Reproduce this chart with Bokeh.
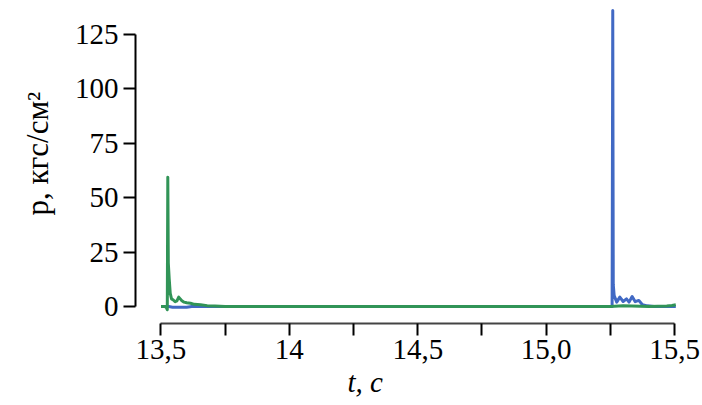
from bokeh.plotting import figure
from bokeh.models import Range1d, FixedTicker, Title
from bokeh.embed import file_html
from bokeh.resources import INLINE

# ---- data ----
green_t = [13.500, 13.515, 13.521, 13.5245, 13.5265, 13.5285, 13.532, 13.536, 13.541,
           13.548, 13.555, 13.562, 13.569, 13.575, 13.580, 13.590, 13.600, 13.615,
           13.630, 13.654, 13.680, 13.710, 13.750, 14.000, 14.500, 15.000, 15.250,
           15.300, 15.400, 15.470, 15.490, 15.505]
green_p = [0.0, 0.0, -0.5, -1.5, 59.4, 20.0, 12.7, 6.0, 3.5,
           3.0, 2.2, 2.6, 4.3, 3.5, 2.8, 2.0, 1.7, 1.5,
           1.0, 0.8, 0.4, 0.2, 0.0, 0.0, 0.0, 0.0, 0.0,
           0.3, 0.0, 0.2, 0.5, 0.8]

blue_t = [13.500, 13.530, 13.545, 13.600, 13.620, 14.000, 14.500, 15.000, 15.257,
          15.2595, 15.2615, 15.265, 15.275, 15.287, 15.300, 15.313, 15.323, 15.335,
          15.347, 15.361, 15.375, 15.394, 15.420, 15.505]
blue_p = [0.0, 0.0, -0.3, -0.3, 0.0, 0.0, 0.0, 0.0, 0.0,
          136.0, 10.0, 5.0, 2.0, 4.3, 2.3, 3.5, 2.0, 4.6,
          2.2, 2.8, 0.8, 0.3, 0.0, 0.0]

x_ticks = [13.5, 13.75, 14.0, 14.25, 14.5, 14.75, 15.0, 15.25, 15.5]
x_tick_labels = ["13,5", "", "14", "", "14,5", "", "15,0", "", "15,5"]
y_ticks = [0, 25, 50, 75, 100, 125]
x_title = "t, c"
y_title = "p, кгс/см²"

FONT = "Liberation Serif"

p = figure(width=702, height=405, output_backend="svg", toolbar_location=None,
           x_range=Range1d(13.4007, 15.5545), y_range=Range1d(-7.81, 140.6),
           min_border_left=135, min_border_right=14, min_border_top=0,
           min_border_bottom=82)
p.outline_line_color = None
p.grid.visible = False
p.background_fill_color = "white"
p.border_fill_color = "white"

p.line(blue_t, blue_p, line_color="#4169c4", line_width=3, line_join="round")
p.line(green_t, green_p, line_color="#319457", line_width=3, line_join="round")

xa = p.xaxis[0]
xa.ticker = FixedTicker(ticks=x_ticks)
xa.major_label_overrides = {t: l for t, l in zip(x_ticks, x_tick_labels)}
xa.bounds = (13.5, 15.5)
xa.minor_tick_line_color = None
xa.major_tick_in = 0
xa.major_tick_out = 12
xa.major_tick_line_width = 2
xa.major_tick_line_color = "black"
xa.axis_line_color = "#444444"
xa.axis_line_width = 2
xa.major_label_text_font = FONT
xa.major_label_text_font_size = "29px"
xa.major_label_text_color = "black"
xa.major_label_standoff = 4

ya = p.yaxis[0]
ya.ticker = FixedTicker(ticks=y_ticks)
ya.bounds = (0, 125)
ya.minor_tick_line_color = None
ya.major_tick_in = 0
ya.major_tick_out = 12
ya.major_tick_line_width = 2
ya.major_tick_line_color = "black"
ya.axis_line_color = "black"
ya.axis_line_width = 2
ya.major_label_text_font = FONT
ya.major_label_text_font_size = "29px"
ya.major_label_text_color = "black"
ya.major_label_standoff = 5

# axis titles placed as side-panel titles (offset from the frame edge)
p.add_layout(Title(text=x_title, align="left", offset=212, standoff=4,
                   text_font=FONT, text_font_style="italic",
                   text_font_size="29px", text_color="black"), "below")
p.add_layout(Title(text=y_title, align="left", offset=108, standoff=33,
                   text_font=FONT, text_font_style="normal",
                   text_font_size="31px", text_color="black"), "left")

open("out.html", "w").write(file_html(p, INLINE))
